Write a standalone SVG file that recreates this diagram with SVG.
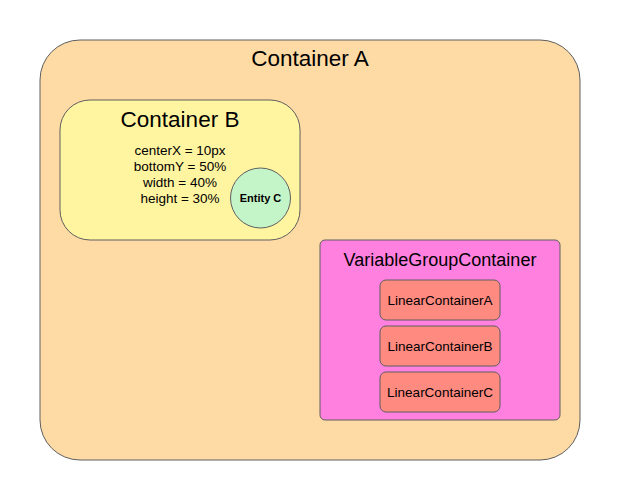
<svg xmlns="http://www.w3.org/2000/svg" width="620" height="500" viewBox="0 0 620 500">
<style>
.box{stroke:#5e5e5e;stroke-width:1}
text{font-family:"Liberation Sans",Arial,sans-serif;fill:#000;text-anchor:middle}
.t20{font-size:22.5px}
.t17{font-size:18px}
.t13{font-size:13.5px}
.b11{font-size:11px;font-weight:bold}
.lin{fill:#ff8a80}
</style>
<rect width="620" height="500" fill="#ffffff"/>
<g id="containerA">
<rect class="box" x="40" y="40" width="540" height="420" rx="40" fill="#fedba5"/>
<text class="t20" x="310" y="66">Container A</text>
</g>
<g id="containerB">
<rect class="box" x="60" y="100" width="240" height="140" rx="30" fill="#fff5a0"/>
<text class="t20" x="180" y="127">Container B</text>
<text class="t13" x="180" y="155">centerX = 10px</text>
<text class="t13" x="180" y="171">bottomY = 50%</text>
<text class="t13" x="180" y="187">width = 40%</text>
<text class="t13" x="180" y="203">height = 30%</text>
</g>
<g id="entityC">
<circle class="box" cx="260.5" cy="198" r="30" fill="#c4f5c8"/>
<text class="b11" x="260.5" y="201.5">Entity C</text>
</g>
<g id="variableGroupContainer">
<rect class="box" x="320" y="240" width="240" height="180" rx="5" fill="#ff80df"/>
<text class="t17" x="440" y="266">VariableGroupContainer</text>
</g>
<g id="linearContainerA">
<rect class="box lin" x="380" y="280" width="120" height="40" rx="6"/>
<text class="t13" x="440" y="304.5">LinearContainerA</text>
</g>
<g id="linearContainerB">
<rect class="box lin" x="380" y="326" width="120" height="40" rx="6"/>
<text class="t13" x="440" y="350.5">LinearContainerB</text>
</g>
<g id="linearContainerC">
<rect class="box lin" x="380" y="372" width="120" height="40" rx="6"/>
<text class="t13" x="440" y="396.5">LinearContainerC</text>
</g>
<g id="connectors"></g>
</svg>
